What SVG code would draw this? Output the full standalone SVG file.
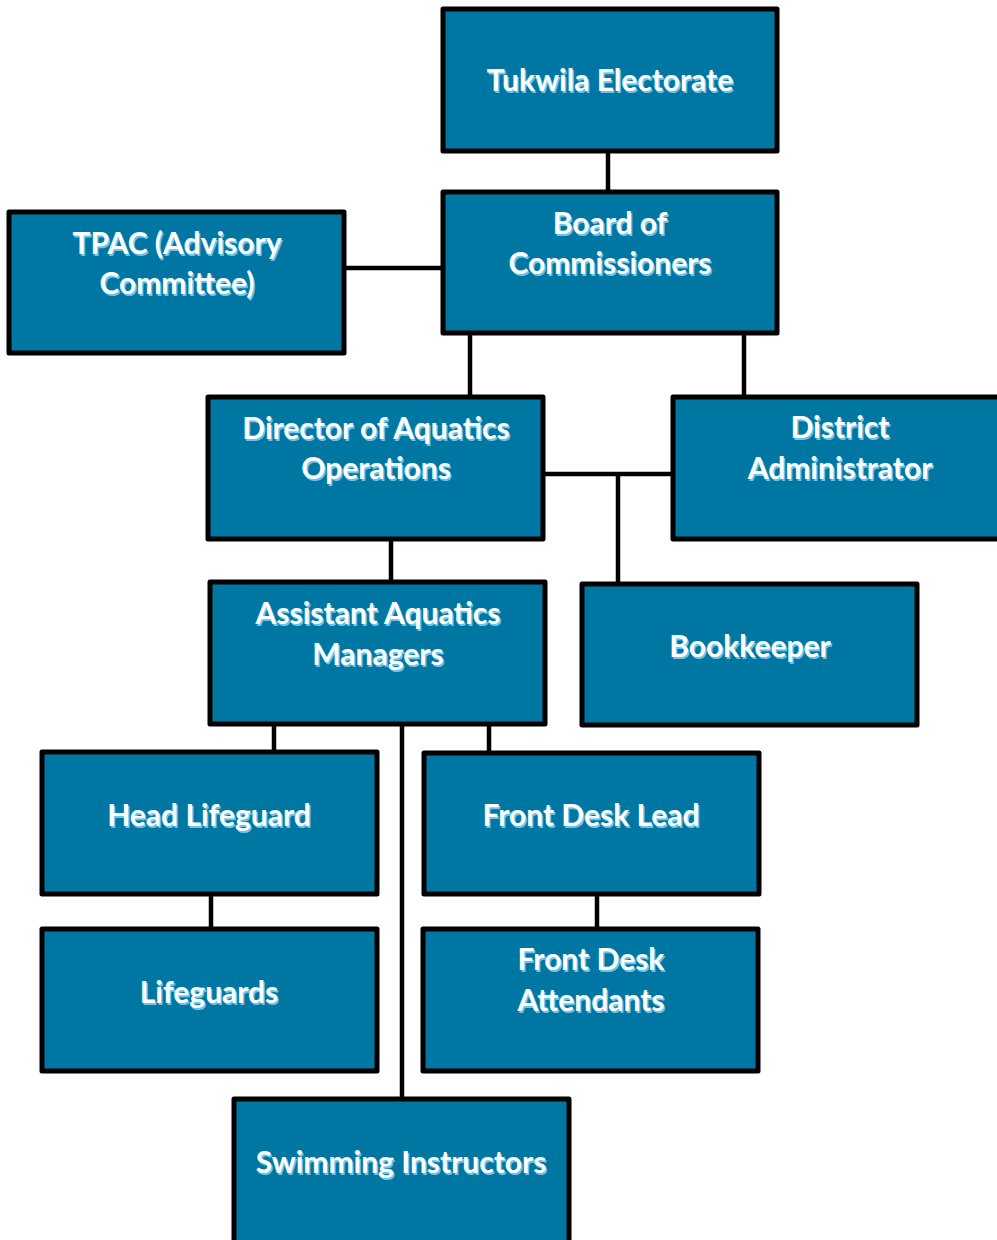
<svg xmlns="http://www.w3.org/2000/svg" width="997" height="1240" viewBox="0 0 997 1240">
<style>
.box{fill:#0077A2;stroke:#000;stroke-width:5;stroke-linejoin:round}
.c{stroke:#000;stroke-width:4.5;fill:none}
text{font-family:Lato,"Liberation Sans",sans-serif;font-weight:bold;font-size:30px;text-anchor:middle}
.sh{fill:#6cc4ea}
.t{fill:#fff}
</style>
<rect width="997" height="1240" fill="#fff"/>
<g id="connectors">
<line class="c" x1="608" y1="151" x2="608" y2="192"/>
<line class="c" x1="344" y1="268" x2="443" y2="268"/>
<line class="c" x1="470" y1="333" x2="470" y2="397"/>
<line class="c" x1="744" y1="333" x2="744" y2="397"/>
<line class="c" x1="543" y1="474" x2="673" y2="474"/>
<line class="c" x1="618" y1="474" x2="618" y2="584"/>
<line class="c" x1="391" y1="539" x2="391" y2="582"/>
<line class="c" x1="274" y1="724" x2="274" y2="752"/>
<line class="c" x1="489" y1="724" x2="489" y2="753"/>
<line class="c" x1="402" y1="724" x2="402" y2="1099"/>
<line class="c" x1="211" y1="894" x2="211" y2="929"/>
<line class="c" x1="597" y1="894" x2="597" y2="929"/>
</g>
<g id="tukwila">
<rect class="box" x="443" y="9" width="334" height="142"/>
<text class="sh" x="611.5" y="92.5">Tukwila Electorate</text>
<text class="t" x="610" y="91">Tukwila Electorate</text>
</g>
<g id="board">
<rect class="box" x="443" y="192" width="334" height="141"/>
<text class="sh" x="611.5" y="235.5">Board of</text>
<text class="t" x="610" y="234">Board of</text>
<text class="sh" x="611.5" y="275.5">Commissioners</text>
<text class="t" x="610" y="274">Commissioners</text>
</g>
<g id="tpac">
<rect class="box" x="9" y="212" width="335" height="141"/>
<text class="sh" x="178.5" y="255.5">TPAC (Advisory</text>
<text class="t" x="177" y="254">TPAC (Advisory</text>
<text class="sh" x="178.5" y="295.5">Committee)</text>
<text class="t" x="177" y="294">Committee)</text>
</g>
<g id="director">
<rect class="box" x="208" y="397" width="335" height="142"/>
<text class="sh" x="377.5" y="440.5">Director of Aquatics</text>
<text class="t" x="376" y="439">Director of Aquatics</text>
<text class="sh" x="377.5" y="480.5">Operations</text>
<text class="t" x="376" y="479">Operations</text>
</g>
<g id="district">
<rect class="box" x="673" y="397" width="340" height="142"/>
<text class="sh" x="841.5" y="439.5">District</text>
<text class="t" x="840" y="438">District</text>
<text class="sh" x="841.5" y="480.5">Administrator</text>
<text class="t" x="840" y="479">Administrator</text>
</g>
<g id="assistant">
<rect class="box" x="210" y="582" width="335" height="142"/>
<text class="sh" x="379.5" y="625.5">Assistant Aquatics</text>
<text class="t" x="378" y="624">Assistant Aquatics</text>
<text class="sh" x="379.5" y="666.5">Managers</text>
<text class="t" x="378" y="665">Managers</text>
</g>
<g id="bookkeeper">
<rect class="box" x="582" y="584" width="335" height="141"/>
<text class="sh" x="751.5" y="658.5">Bookkeeper</text>
<text class="t" x="750" y="657">Bookkeeper</text>
</g>
<g id="headlifeguard">
<rect class="box" x="42" y="752" width="335" height="142"/>
<text class="sh" x="210.5" y="827.5">Head Lifeguard</text>
<text class="t" x="209" y="826">Head Lifeguard</text>
</g>
<g id="frontdesklead">
<rect class="box" x="424" y="753" width="335" height="141"/>
<text class="sh" x="592.5" y="827.5">Front Desk Lead</text>
<text class="t" x="591" y="826">Front Desk Lead</text>
</g>
<g id="lifeguards">
<rect class="box" x="42" y="929" width="335" height="142"/>
<text class="sh" x="210.5" y="1004.5">Lifeguards</text>
<text class="t" x="209" y="1003">Lifeguards</text>
</g>
<g id="frontdeskattendants">
<rect class="box" x="423" y="929" width="335" height="142"/>
<text class="sh" x="592.5" y="971.5">Front Desk</text>
<text class="t" x="591" y="970">Front Desk</text>
<text class="sh" x="592.5" y="1012.5">Attendants</text>
<text class="t" x="591" y="1011">Attendants</text>
</g>
<g id="swimming">
<rect class="box" x="234" y="1099" width="335" height="160"/>
<text class="sh" x="402.5" y="1174.5">Swimming Instructors</text>
<text class="t" x="401" y="1173">Swimming Instructors</text>
</g>
</svg>
